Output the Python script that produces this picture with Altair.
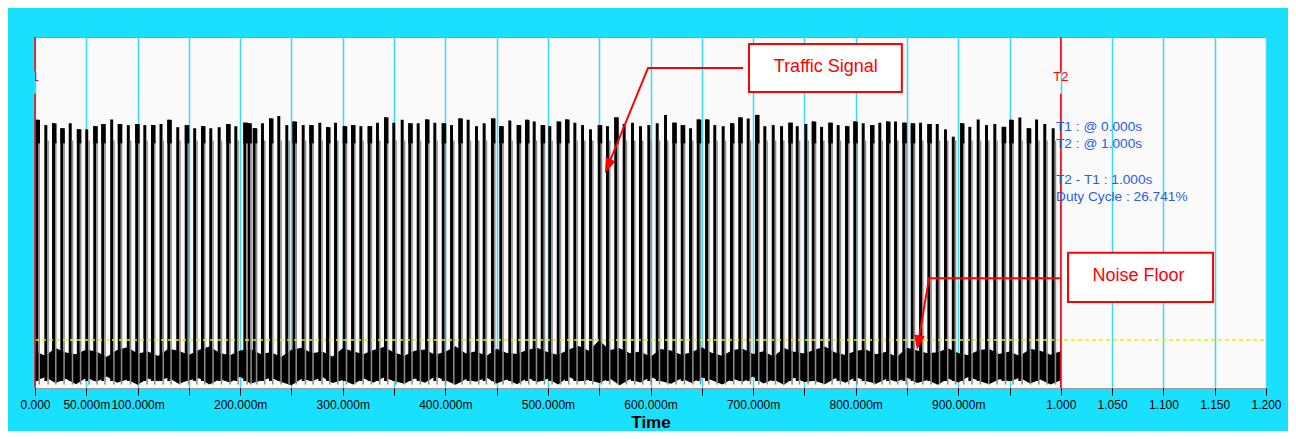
import altair as alt
import pandas as pd

# ---------------- data ----------------
# pulse start times (ms)
pulse_t = [
    0.5, 9.1, 16.6, 24.7, 32.9, 40.8, 49.0, 56.8, 64.6, 73.3, 80.7, 89.5, 97.7, 105.6, 113.1,
    121.4, 129.0, 137.7, 146.0, 154.2, 161.8, 169.9, 178.1, 186.4, 194.3, 203.1, 207.0, 212.3,
    220.3, 228.1, 236.2, 244.0, 251.0,
    260.0, 267.4, 276.2, 283.7, 291.5, 300.0, 308.1, 316.2, 324.3, 332.4, 340.2, 348.3, 356.5,
    363.9, 372.1, 380.2, 388.3, 396.5, 404.6, 412.7, 420.8, 428.9, 436.4, 444.5, 452.6, 461.4,
    469.6, 477.7, 485.2, 493.0, 500.4,
    508.6, 516.7, 524.8, 532.3, 540.1, 548.6, 556.6, 564.7, 572.9, 581.0, 588.8, 596.9, 605.1,
    613.2, 621.3, 629.5, 637.6, 645.1, 653.2, 661.2, 669.4, 677.5, 685.6, 693.8, 701.9, 710.0,
    718.2, 726.3, 734.4, 741.6, 750.0,
    757.2, 765.3, 773.4, 781.5, 789.6, 797.7, 805.9, 814.0, 822.1, 829.6, 837.4, 845.5, 853.7,
    861.8, 869.9, 878.1, 886.1, 893.7, 901.7, 909.8, 918.0, 926.1, 934.2, 942.4, 949.8, 958.6,
    966.8, 974.9, 982.9, 991.1,
]
# pulse peak level (arbitrary units, 0 = bottom of plot, 100 = top)
pulse_top = [
    76.4, 74.9, 75.4, 74.0, 75.4, 73.7, 73.7, 74.6, 75.2, 76.5, 75.2, 74.9, 75.2, 74.9, 74.9,
    75.2, 76.4, 74.3, 74.9, 74.0, 74.6, 74.0, 74.3, 75.2, 74.6, 75.6, 75.4, 74.0, 75.4, 76.8,
    77.5, 74.9, 75.9,
    74.9, 74.9, 75.6, 74.3, 75.6, 74.6, 74.9, 74.6, 74.6, 75.6, 77.1, 75.6, 76.4, 75.4, 75.4,
    76.5, 75.6, 75.4, 74.9, 76.8, 76.4, 74.6, 75.4, 76.8, 74.6, 76.2, 74.9, 76.4, 75.9, 74.9, 74.6,
    75.9, 76.5, 75.6, 74.9, 73.7, 74.9, 74.6, 77.1, 75.2, 75.6, 74.6, 74.9, 75.4, 77.8, 75.6,
    74.9, 74.0, 76.5, 76.5, 74.9, 74.6, 75.4, 77.1, 76.8, 77.8, 74.6, 74.9, 74.6, 75.6, 74.6, 75.2,
    75.9, 74.4, 75.6, 74.9, 74.6, 75.9, 75.4, 74.9, 75.6, 75.9, 75.9, 75.6, 75.4, 75.6, 75.2,
    75.2, 73.7, 71.6, 75.4, 74.4, 76.5, 74.9, 75.2, 74.4, 76.4, 77.1, 74.0, 76.5, 75.2, 74.0,
]
# 1 = pulse with a wide dark cap at its top
pulse_cap = [
    1, 0, 1, 1, 0, 1, 0, 1, 1, 0, 1, 0, 1, 0, 1, 0, 1, 0, 1, 0, 1, 0, 0, 1, 0, 1, 1, 1, 0, 1, 0, 0, 1,
    0, 1, 0, 1, 0, 1, 1, 0, 1, 0, 1, 0, 0, 1, 0, 1, 0, 1, 0, 1, 0, 0, 0, 1, 1, 0, 1, 1, 0, 1, 0,
    1, 1, 0, 0, 0, 1, 0, 1, 0, 0, 0, 0, 0, 0, 1, 1, 0, 1, 1, 0, 0, 1, 1, 0, 1, 0, 0, 0, 1, 0, 0,
    1, 0, 1, 0, 1, 1, 0, 1, 0, 1, 0, 1, 1, 0, 1, 0, 0, 0, 1, 0, 0, 0, 0, 1, 1, 0, 1, 0, 0, 0,
]
# noise floor envelope, one reading every 10 ms from 0 to 1000 ms
noise_hi = [
    10.5, 9.2, 11.4, 10.1, 9.6, 11.0, 10.3, 8.9, 10.8, 11.6,
    9.8, 10.4, 9.1, 11.2, 10.6, 9.4, 10.9, 11.8, 10.0, 9.3,
    10.7, 11.1, 9.7, 10.2, 8.8, 10.9, 11.5, 9.9, 10.4, 9.0,
    11.3, 10.5, 9.6, 10.8, 11.7, 10.1, 9.2, 10.6, 11.0, 9.5,
    10.3, 11.9, 9.8, 10.5, 9.1, 11.2, 10.0, 9.7, 10.9, 11.4,
    10.2, 9.4, 11.0, 12.0, 10.6, 13.6, 10.8, 11.3, 9.9, 10.4,
    8.9, 11.1, 10.7, 9.5, 10.2, 11.6, 10.0, 9.2, 10.8, 11.2,
    9.7, 10.5, 9.0, 11.4, 10.3, 9.8, 10.9, 11.8, 10.1, 9.4,
    10.6, 11.0, 9.6, 10.3, 8.8, 11.5, 10.7, 9.9, 10.2, 11.3,
    10.0, 9.3, 10.8, 11.1, 9.7, 10.4, 9.1, 11.2, 10.6, 9.5,
    10.5,
]
noise_lo = [
    2.0, 3.1, 1.4, 2.6, 1.1, 2.9, 1.8, 3.3, 1.5, 2.4,
    0.9, 2.7, 1.9, 3.0, 1.2, 2.2, 2.8, 1.0, 2.5, 1.6,
    3.2, 1.3, 2.1, 2.9, 1.7, 0.8, 2.6, 1.9, 3.1, 1.4,
    2.3, 1.0, 2.8, 1.6, 3.0, 2.0, 1.2, 2.7, 1.5, 3.3,
    2.2, 0.9, 2.5, 1.8, 3.0, 1.3, 2.4, 1.1, 2.9, 1.7,
    2.6, 1.0, 3.2, 1.9, 2.3, 1.4, 2.8, 0.8, 2.5, 1.6,
    3.1, 2.0, 1.2, 2.7, 1.5, 3.0, 2.2, 1.0, 2.6, 1.8,
    3.3, 1.3, 2.4, 0.9, 2.9, 1.7, 2.1, 1.1, 2.8, 1.5,
    3.1, 2.0, 1.2, 2.6, 1.8, 3.0, 1.4, 2.3, 0.9, 2.7,
    1.6, 3.2, 2.1, 1.1, 2.5, 1.9, 2.9, 1.3, 2.4, 1.0,
    2.2,
]
noise_step_ms = 10
threshold_level = [13.7]

tick_vals = [0.0, 0.05, 0.1, 0.15, 0.2, 0.25, 0.3, 0.35, 0.4, 0.45, 0.5, 0.55, 0.6,
             0.65, 0.7, 0.75, 0.8, 0.85, 0.9, 0.95, 1.0, 1.05, 1.1, 1.15, 1.2]
tick_labels = ["0.000", "50.000m", "100.000m", "", "200.000m", "", "300.000m", "",
               "400.000m", "", "500.000m", "", "600.000m", "", "700.000m", "", "800.000m",
               "", "900.000m", "", "1.000", "1.050", "1.100", "1.150", "1.200"]

cursor_t = [0.0, 1.0]
cursor_names = ["T1", "T2"]
info_lines = ["T1 : @ 0.000s", "T2 : @ 1.000s", "T2 - T1 : 1.000s", "Duty Cycle : 26.741%"]
info_levels = [74.4, 69.5, 59.3, 54.4]
info_x = [0.9953]

box_text = ["Traffic Signal", "Noise Floor"]
box_x = [0.696, 1.007]
box_x2 = [0.845, 1.1484]
box_y = [98.0, 38.5]
box_y2 = [84.3, 24.5]
box_text_x = [0.7709, 1.0757]
box_text_y = [91.5, 31.9]

leader_id = ["traffic", "traffic", "traffic", "noise", "noise", "noise"]
leader_x = [0.6902, 0.5976, 0.5584, 0.9992, 0.8715, 0.8610]
leader_y = [91.2, 91.2, 63.2, 31.3, 31.3, 12.9]
head_x = [0.5584, 0.8610]
head_y = [63.2, 12.9]
head_angle = [202.3, 189.5]

# ---------------- build tables ----------------
n = min(len(pulse_t), len(pulse_top), len(pulse_cap))
p = pd.DataFrame({"t": pulse_t[:n], "top": pulse_top[:n], "cap": pulse_cap[:n]})
BLACK_W, GRAY_W, CAP_BOTTOM = 2.9, 1.5, 69.7
p["x"] = p["t"] / 1000.0
p["xb2"] = (p["t"] + BLACK_W) / 1000.0
p["xg2"] = (p["t"] + BLACK_W + GRAY_W) / 1000.0
p["base"] = 2.0
p["gbase"] = 1.0
p["gtop"] = p["top"].clip(upper=70.5)
p["capb"] = CAP_BOTTOM
caps = p[p["cap"] == 1]

m = min(len(noise_hi), len(noise_lo))
noise = pd.DataFrame({
    "x": [i * noise_step_ms / 1000.0 for i in range(m)],
    "hi": noise_hi[:m],
    "lo": noise_lo[:m],
})

label_expr = "[" + ",".join("'%s'" % s for s in tick_labels) + "][round(datum.value*20)]"

xscale = alt.Scale(domain=[0, 1.2], nice=False, zero=False)
yscale = alt.Scale(domain=[0, 100], nice=False, zero=False)

x_axis = alt.Axis(values=tick_vals, labelExpr=label_expr, grid=True, gridColor="#3cd9fa",
                  gridWidth=1.5, domain=False, ticks=True, tickColor="black", tickSize=7,
                  tickWidth=1, labelColor="black", labelFont="Liberation Sans",
                  labelFontSize=12, labelPadding=4, labelOverlap=False, labelFlush=False,
                  labelBound=False, title="Time", titleFont="Liberation Sans",
                  titleFontSize=17, titleFontWeight="bold", titleColor="black", titlePadding=4)


def X(field):
    return alt.X(field, scale=xscale, axis=x_axis, title="Time")


def Y(field):
    return alt.Y(field, scale=yscale, axis=None)


noise_layer = alt.Chart(noise).mark_area(color="black", opacity=1, interpolate="linear").encode(
    x=X("x:Q"), y=Y("hi:Q"), y2="lo:Q",
)

black_bars = alt.Chart(p).mark_rect(color="black").encode(
    x=X("x:Q"), x2="xb2:Q", y=Y("top:Q"), y2="base:Q",
)
gray_bars = alt.Chart(p).mark_rect(color="#8c8c8c").encode(
    x=X("xb2:Q"), x2="xg2:Q", y=Y("gtop:Q"), y2="gbase:Q",
)
cap_bars = alt.Chart(caps).mark_rect(color="black").encode(
    x=X("x:Q"), x2="xg2:Q", y=Y("top:Q"), y2="capb:Q",
)

thr = pd.DataFrame({"y": threshold_level, "x": [0.0], "x2": [1.2]})
thr_layer = alt.Chart(thr).mark_rule(color="#eeee00", strokeWidth=1.5, strokeDash=[4, 3]).encode(
    x=X("x:Q"), x2="x2:Q", y=Y("y:Q"),
)

cur = pd.DataFrame({
    "x": [cursor_t[0], cursor_t[0], cursor_t[1], cursor_t[1]],
    "y": [100.0, 83.8, 100.0, 83.8],
    "y2": [90.1, 0.0, 90.1, 0.0],
})
cur_layer = alt.Chart(cur).mark_rule(color="#ff0000", strokeWidth=1.5).encode(
    x=X("x:Q"), y=Y("y:Q"), y2="y2:Q",
)
t2_label = alt.Chart(pd.DataFrame({"x": [cursor_t[1]], "y": [88.5], "t": [cursor_names[1]]})).mark_text(
    color="#ff0000", font="Liberation Sans", fontSize=13, align="center", baseline="middle"
).encode(x=X("x:Q"), y=Y("y:Q"), text="t:N")
t1_label = alt.Chart(pd.DataFrame({"x": [cursor_t[0]], "y": [88.5], "t": [cursor_names[0]]})).mark_text(
    color="#ff0000", font="Liberation Sans", fontSize=13, align="right", baseline="middle", dx=4, clip=True
).encode(x=X("x:Q"), y=Y("y:Q"), text="t:N")

info = pd.DataFrame({"t": info_lines, "y": info_levels, "x": info_x * len(info_lines)})
info_layer = alt.Chart(info).mark_text(
    color="#2b5ce6", font="Liberation Sans", fontSize=13.7, align="left", baseline="middle"
).encode(x=X("x:Q"), y=Y("y:Q"), text="t:N")

leaders = pd.DataFrame({"id": leader_id, "x": leader_x, "y": leader_y, "o": [0, 1, 2, 0, 1, 2]})
leader_layer = alt.Chart(leaders).mark_line(color="#ff0000", strokeWidth=2).encode(
    x=X("x:Q"), y=Y("y:Q"), detail="id:N", order="o:Q",
)
heads = pd.DataFrame({"x": head_x, "y": head_y, "a": head_angle})
head_layer = alt.Chart(heads).mark_point(
    shape="M0,-1L-0.7,1L0.7,1Z", filled=True, color="#ff0000", opacity=1, size=225, strokeWidth=0
).encode(
    x=X("x:Q"), y=Y("y:Q"), angle=alt.Angle("a:Q", scale=None),
)

boxes = pd.DataFrame({"t": box_text, "x": box_x, "x2": box_x2, "y": box_y, "y2": box_y2,
                      "tx": box_text_x, "ty": box_text_y})
box_layer = alt.Chart(boxes).mark_rect(fill="white", stroke="#ff0000", strokeWidth=2).encode(
    x=X("x:Q"), x2="x2:Q", y=Y("y:Q"), y2="y2:Q",
)
box_text_layer = alt.Chart(boxes).mark_text(
    color="#ff0000", font="Liberation Sans", fontSize=18, align="center", baseline="middle"
).encode(x=X("tx:Q"), y=Y("ty:Q"), text="t:N")

chart = alt.layer(
    noise_layer, black_bars, gray_bars, cap_bars, thr_layer, cur_layer, t2_label, t1_label,
    info_layer, leader_layer, head_layer, box_layer, box_text_layer,
).properties(
    width=1231, height=351,
    autosize=alt.AutoSizeParams(type="none"),
    padding={"left": 27, "top": 29, "right": 22, "bottom": 43},
    background="#1ae0ff",
).configure_view(fill="#fafafa", stroke="#9a9a9a", strokeWidth=1)

chart.save("out.html", embed_options={"renderer": "svg", "actions": False})
